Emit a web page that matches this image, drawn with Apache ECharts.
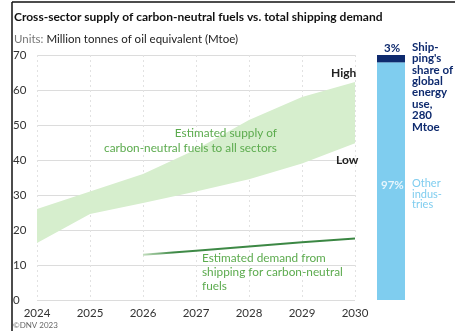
<!DOCTYPE html>
<html>
<head>
<meta charset="utf-8">
<script src="https://cdn.jsdelivr.net/npm/echarts@6/dist/echarts.min.js"></script>
<style>
  html, body { margin: 0; padding: 0; background: #fff; }
  #draw { width: 455px; height: 331px; }
</style>
</head>
<body>
<div id="draw"></div>
<script>
// data
var years = ['2024', '2025', '2026', '2027', '2028', '2029', '2030'];
var supplyLow = [16.3, 24.6, 27.7, 31, 34.5, 39, 44.8];
var supplyHigh = [26, 31, 36, 43, 51.4, 58, 62.3];
var shippingDemand = [null, null, 12.9, 14.1, 15.3, 16.5, 17.6];
var shareCats = ['share'];
var otherShare = [97];
var shippingShare = [3];

var FONT = 'Lato, "Open Sans", sans-serif';
var GREEN_TXT = '#5cab4e';
var NAVY = '#0e2a6e';
var SKY = '#7fcdef';

var myChart = echarts.init(document.getElementById('draw'));

var bandDiff = supplyHigh.map(function(v, i) {
	return +(v - supplyLow[i]).toFixed(2);
});

function txt(x, y, s, opt) {
	opt = opt || {};
	return {
		type : 'text',
		left : x,
		top : y,
		z : 100,
		style : {
			text : s,
			font : (opt.weight || 'normal') + ' ' + (opt.size || 11) + 'px ' + FONT,
			fill : opt.color || '#222',
			textAlign : opt.align || 'left',
			lineHeight : opt.lh || 14
		}
	};
}

var option = {
	backgroundColor : '#fff',
	animation : false,
	textStyle : { fontFamily : FONT },
	grid : [ {
		left : 37, right : 100, top : 55, bottom : 31
	}, {
		left : 377, width : 28, top : 55, bottom : 31
	} ],
	xAxis : [ {
		type : 'category',
		gridIndex : 0,
		data : years,
		boundaryGap : false,
		axisLine : { show : false },
		axisTick : { show : false },
		axisLabel : { color : '#333', fontSize : 11.5, margin : 7 },
		splitLine : { show : true, lineStyle : { color : '#e2e2e2', type : [2, 3] } }
	}, {
		type : 'category',
		gridIndex : 1,
		data : shareCats,
		show : false
	} ],
	yAxis : [ {
		type : 'value',
		gridIndex : 0,
		min : 0, max : 70, interval : 10,
		axisLine : { show : false },
		axisTick : { show : false },
		axisLabel : { color : '#333', fontSize : 11.5, align : 'left', margin : 24 },
		splitLine : { lineStyle : { color : '#dcdcdc' } }
	}, {
		type : 'value',
		gridIndex : 1,
		min : 0, max : 100,
		show : false
	} ],
	series : [ {
		name : 'low',
		type : 'line',
		data : supplyLow,
		stack : 'band',
		symbol : 'none',
		lineStyle : { width : 0 },
		z : 1
	}, {
		name : 'band',
		type : 'line',
		data : bandDiff,
		stack : 'band',
		symbol : 'none',
		lineStyle : { width : 0 },
		areaStyle : { color : '#d6eecd', opacity : 1 },
		z : 1
	}, {
		name : 'demand',
		type : 'line',
		data : shippingDemand,
		symbol : 'none',
		lineStyle : {
			width : 2,
			color : new echarts.graphic.LinearGradient(0, 0, 1, 0, [
				{ offset : 0, color : '#cfe6c9' },
				{ offset : 0.15, color : '#3f8a47' },
				{ offset : 1, color : '#3a8642' }
			])
		},
		z : 3
	}, {
		name : 'other',
		type : 'bar',
		xAxisIndex : 1, yAxisIndex : 1,
		stack : 'share',
		data : otherShare,
		barWidth : '100%',
		itemStyle : { color : SKY }
	}, {
		name : 'shipping',
		type : 'bar',
		xAxisIndex : 1, yAxisIndex : 1,
		stack : 'share',
		data : shippingShare,
		barWidth : '100%',
		itemStyle : { color : NAVY }
	} ],
	graphic : [
		// page border lines
		{ type : 'line', z : 100, shape : { x1 : 12, y1 : 2, x2 : 455, y2 : 2 }, style : { stroke : '#111', lineWidth : 1.5 } },
		{ type : 'line', z : 100, shape : { x1 : 12, y1 : 2, x2 : 12, y2 : 331 }, style : { stroke : '#111', lineWidth : 1.5 } },
		txt(14, 10, 'Cross-sector supply of carbon-neutral fuels vs. total shipping demand', { weight : 'bold', size : 12, color : '#111' }),
		{
			type : 'text', left : 14, top : 33, z : 100,
			style : {
				text : '{g|Units:} Million tonnes of oil equivalent (Mtoe)',
				font : '11.5px ' + FONT, fill : '#222',
				rich : { g : { fill : '#777', font : '11.5px ' + FONT } }
			}
		},
		txt(331, 66, 'High', { weight : 'bold', size : 12 }),
		txt(336, 153, 'Low', { weight : 'bold', size : 12 }),
		txt(104, 126, 'Estimated supply of\ncarbon-neutral fuels to all sectors', { color : GREEN_TXT, align : 'right', size : 11.8, lh : 15 }),
		txt(202, 251, 'Estimated demand from\nshipping for carbon-neutral\nfuels', { color : GREEN_TXT, size : 11.8, lh : 14 }),
		txt(384, 41, '3%', { weight : 'bold', size : 11.5, color : NAVY }),
		txt(412, 41, 'Ship-\nping\'s\nshare of\nglobal\nenergy\nuse,\n280\nMtoe', { weight : 'bold', size : 11.5, color : NAVY, lh : 11.4 }),
		txt(381, 178, '97%', { weight : 'bold', size : 11.5, color : '#e8f6fd' }),
		txt(412, 178, 'Other\nindus-\ntries', { size : 11, color : SKY, lh : 10.5 }),
		txt(13, 318, '©DNV 2023', { size : 8, color : '#666' })
	]
};
myChart.setOption(option);
</script>
</body>
</html>
